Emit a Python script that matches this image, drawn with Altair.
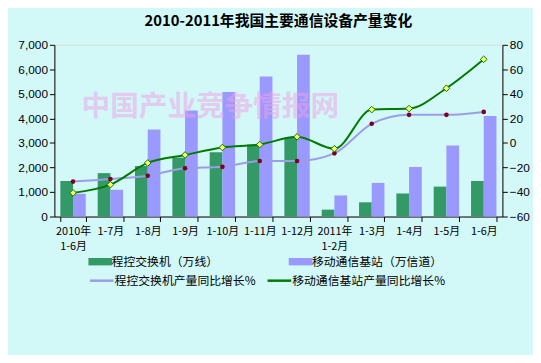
import altair as alt
import pandas as pd

categories = ["2010年\n1-6月", "1-7月", "1-8月", "1-9月", "1-10月", "1-11月", "1-12月",
              "2011年\n1-2月", "1-3月", "1-4月", "1-5月", "1-6月"]
switch_output = [1450, 1770, 2060, 2400, 2620, 2940, 3220, 280, 580, 940, 1220, 1450]
bs_output = [930, 1090, 3550, 4320, 5080, 5710, 6600, 860, 1370, 2020, 2900, 4100]
switch_growth = [-31.5, -29.4, -26.7, -20.6, -19.5, -14.7, -14.7, -8.5, 15.6, 22.9, 22.9, 25.3]
bs_growth = [-40.7, -34.0, -16.3, -9.8, -3.7, -1.3, 5.0, -4.7, 27.2, 28.0, 44.6, 68.2]

bar_series = ["程控交换机（万线）", "移动通信基站（万信道）"]
line_series = ["程控交换机产量同比增长%", "移动通信基站产量同比增长%"]
title_text = "2010-2011年我国主要通信设备产量变化"
watermark = "中国产业竞争情报网"

FONT = "Noto Sans CJK SC"

bars_df = pd.DataFrame({
    "cat": categories * 2,
    "series": [bar_series[0]] * 12 + [bar_series[1]] * 12,
    "value": switch_output + bs_output,
})
lines_df = pd.DataFrame({
    "cat": categories * 2,
    "series": [line_series[0]] * 12 + [line_series[1]] * 12,
    "value": switch_growth + bs_growth,
})

x_enc = alt.X("cat:N", sort=categories,
              scale=alt.Scale(paddingInner=0.32, paddingOuter=0.16),
              axis=alt.Axis(title=None, labelAngle=0, labelExpr="split(datum.label, '\\n')",
                            tickBand="extent", labelPadding=4, labelLineHeight=15,
                            labelFontSize=11, labelFont=FONT, labelColor="black",
                            domainColor="black", tickColor="black", tickSize=5))

bars = alt.Chart(bars_df).mark_bar().encode(
    x=x_enc,
    xOffset=alt.XOffset("series:N", sort=bar_series, scale=alt.Scale(paddingInner=0)),
    y=alt.Y("value:Q", scale=alt.Scale(domain=[0, 7000]),
            axis=alt.Axis(title=None, values=list(range(0, 7001, 1000)), format=",d",
                          grid=False, labelFontSize=12, labelFont="Liberation Sans",
                          labelColor="black", domainColor="black", tickColor="black",
                          tickSize=5)),
    color=alt.Color("series:N", sort=bar_series,
                    scale=alt.Scale(domain=bar_series, range=["#339966", "#9999FF"]),
                    legend=alt.Legend(title=None, orient="none", legendX=39, legendY=212,
                                      direction="horizontal", columns=2, columnPadding=70,
                                      symbolType="M-1.6,-0.5H1.6V0.5H-1.6Z", symbolSize=225,
                                      symbolStrokeWidth=0, labelFont=FONT, labelFontSize=12,
                                      labelColor="black", labelLimit=300)),
)

y_right = alt.Y("value:Q", scale=alt.Scale(domain=[-60, 80]),
                axis=alt.Axis(title=None, orient="right", values=list(range(-60, 81, 20)),
                              grid=False, labelFontSize=12, labelFont="Liberation Sans",
                              labelColor="black", domainColor="black", tickColor="black",
                              tickSize=5))

line = alt.Chart(lines_df).mark_line(interpolate="monotone", strokeWidth=2).encode(
    x=alt.X("cat:N", sort=categories),
    y=y_right,
    stroke=alt.Stroke("series:N", sort=line_series,
                      scale=alt.Scale(domain=line_series, range=["#9C9CE8", "#007A00"]),
                      legend=alt.Legend(title=None, orient="none", legendX=39, legendY=230,
                                        direction="horizontal", columns=2, columnPadding=6,
                                        symbolType="M-1.6,0H1.6", symbolSize=225,
                                        symbolStrokeWidth=2.5, labelFont=FONT, labelFontSize=12,
                                        labelColor="black", labelLimit=300)),
)

pts_switch = alt.Chart(lines_df).transform_filter(
    alt.datum.series == line_series[0]
).mark_point(filled=True, shape="circle", size=22, color="#7A0020", opacity=1).encode(
    x=alt.X("cat:N", sort=categories), y=y_right)

pts_bs = alt.Chart(lines_df).transform_filter(
    alt.datum.series == line_series[1]
).mark_point(filled=True, shape="diamond", size=45, fill="#FFFF66", stroke="#007A00",
             strokeWidth=1, opacity=1).encode(
    x=alt.X("cat:N", sort=categories), y=y_right)

line_layer = alt.layer(line, pts_switch, pts_bs)

wm = alt.Chart(pd.DataFrame({"t": [watermark]})).mark_text(
    font=FONT, fontSize=29, fontWeight="bold", color="#F0A0E8", opacity=0.5
).encode(x=alt.value(158), y=alt.value(63), text="t:N")

chart = alt.layer(bars, line_layer, wm).resolve_scale(
    y="independent", color="independent"
).properties(
    width=454, height=174,
    title=alt.TitleParams(title_text, font=FONT, fontSize=15, fontWeight="bold",
                          color="black", offset=10, anchor="middle"),
    padding={"left": 9, "top": 4, "right": 3, "bottom": 67},
).configure_view(
    fill="white", stroke="#808080", strokeWidth=1
).configure(background="#D3F8F8")

chart.save("out.html", embed_options={"renderer": "svg", "actions": False})
